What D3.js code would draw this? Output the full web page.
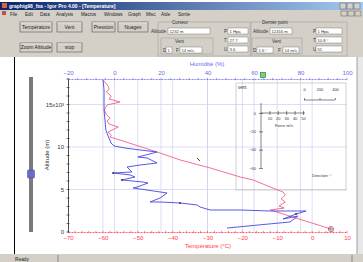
<!DOCTYPE html>
<html><head><meta charset="utf-8">
<script src="https://cdn.jsdelivr.net/npm/d3@7"></script>
<style>body{margin:0;background:#fff}svg{display:block;font-family:"Liberation Sans",Arial,sans-serif}</style>
</head><body>
<script>
// ---- data ----
const tempTicks = [-70,-60,-50,-40,-30,-20,-10,0,10];
const humTicks = [-20,0,20,40,60,80,100];
const altTicks = [0,5000,10000,15000];
// temperature profile: altitude (m), temperature (°C)
const tempAlt = [350,2590,2820,3060,3530,3880,4350,4700,5290,6120,6470,7530,8470,9290,10820,11170,11400,11760,12350,12700,13060,13410,13760,14350,14940,15290,15650,16000,16470,16820,17170,17880];
const tempVal = [5.4,-12.0,-8.0,-9.5,-7.7,-8.9,-7.7,-8.3,-12.0,-16.9,-20.6,-29.2,-37.8,-43.6,-55.1,-57.9,-57.6,-58.5,-55.6,-58.2,-58.8,-57.9,-58.9,-59.6,-58.8,-55.1,-58.2,-57.6,-59.0,-58.2,-58.5,-59.9];
// humidity profile: altitude (m), humidity (%)
const humAlt = [470,1180,1880,1530,2120,2470,2470,2590,2590,2940,3180,3410,3530,3530,4000,4590,4710,5180,5290,5760,5880,6120,6470,6710,6940,7060,7650,7880,8120,8710,8820,9410,9650,9880,10120,10470,11060,12000,13180,14350,15530,16710,17880];
const humVal = [48.4,75.5,78.9,72.5,78.1,82.4,66.9,54.0,41.1,36.8,35.5,28.2,19.6,15.3,19.6,22.6,19.6,8.0,9.7,14.4,12.3,3.2,8.8,6.7,-0.6,7.5,5.4,11.0,18.3,14.0,10.1,18.3,11.0,4.5,-0.2,-1.5,-2.4,-3.7,-4.1,-4.5,-4.5,-4.5,-4.9];
// wind inset axes
const forceTicks = [10,20,30,40,50];
const insetYTicks = [0,-20,-40,-60];
const scaleTicks = [0,200,400];
const menuItems = ["File","Edit","Data","Analysis","Macros","Windows","Graph","Misc","Aide","Sortie"];
const buttons1 = ["Température","Vent","Pression","Nuages"];
const buttons2 = ["Zoom Altitude","stop"];

const W=363,H=262;
const svg=d3.select("body").append("svg").attr("width",W).attr("height",H);

// ---- window chrome ----
svg.append("rect").attr("x",0).attr("y",0).attr("width",W).attr("height",H).attr("fill","#fff");
const grad=svg.append("defs").append("linearGradient").attr("id","tb");
grad.append("stop").attr("offset","0").attr("stop-color","#0a246a");
grad.append("stop").attr("offset","1").attr("stop-color","#a6caf0");
svg.append("rect").attr("x",0).attr("y",2).attr("width",W).attr("height",8).attr("fill","url(#tb)");
svg.append("rect").attr("x",2).attr("y",3).attr("width",5).attr("height",5).attr("fill","#e06040");
svg.append("text").attr("x",9).attr("y",8).attr("font-size",5).attr("font-weight","bold").attr("fill","#fff").text("graphig98_fxa - Igor Pro 4.00 - [Temperature]");
[340,347,354].forEach(x=>{svg.append("rect").attr("x",x).attr("y",3).attr("width",6).attr("height",6).attr("fill","#d4d0c8").attr("stroke","#404040").attr("stroke-width",0.4);});
// menu bar
svg.append("rect").attr("x",0).attr("y",10).attr("width",W).attr("height",7).attr("fill","#d4d0c8");
svg.append("rect").attr("x",2).attr("y",11).attr("width",4).attr("height",4).attr("fill","#c05050");
const menuX=[10,25,40,56,81,104,128,146,161,178];
menuItems.forEach((m,i)=>svg.append("text").attr("x",menuX[i]).attr("y",15.5).attr("font-size",4.6).attr("fill","#222").text(m));
[341,348,355].forEach(x=>{svg.append("rect").attr("x",x).attr("y",11).attr("width",6).attr("height",5).attr("fill","#d4d0c8").attr("stroke","#404040").attr("stroke-width",0.4);});
// control panel
svg.append("rect").attr("x",0).attr("y",17).attr("width",W).attr("height",40).attr("fill","#d4d0c8");
function button(x,y,w,h,label){
  svg.append("rect").attr("x",x).attr("y",y).attr("width",w).attr("height",h).attr("fill","#d4d0c8").attr("stroke","#555").attr("stroke-width",0.6);
  svg.append("line").attr("x1",x+0.5).attr("x2",x+w-0.5).attr("y1",y+0.8).attr("y2",y+0.8).attr("stroke","#fff").attr("stroke-width",0.6);
  svg.append("text").attr("x",x+w/2).attr("y",y+h/2+1.8).attr("text-anchor","middle").attr("font-size",5).attr("fill","#222").text(label);
}
const b1x=[20,57,92,118],b1w=[32,25,23,30];
buttons1.forEach((b,i)=>button(b1x[i],22,b1w[i],10,b));
button(20,43,32,9,buttons2[0]);button(57,43,25,9,buttons2[1]);
function field(x,y,w,t){
  svg.append("rect").attr("x",x).attr("y",y).attr("width",w).attr("height",6).attr("fill","#fff").attr("stroke","#666").attr("stroke-width",0.4);
  svg.append("text").attr("x",x+1.5).attr("y",y+4.7).attr("font-size",4.2).attr("fill","#333").text(t);
}
function lab(x,y,t,a){svg.append("text").attr("x",x).attr("y",y).attr("font-size",4.5).attr("fill","#333").attr("text-anchor",a||"start").text(t);}
function gbox(x,y,w,h){svg.append("rect").attr("x",x).attr("y",y).attr("width",w).attr("height",h).attr("fill","none").attr("stroke","#999").attr("stroke-width",0.5);}
gbox(158,22,92,34);lab(172,23.5,"Curseur");
lab(166,33,"Altitude","end");field(168,28,42,"1232 m");
gbox(161,38,52,16);lab(175,43,"Vent");
lab(163,52,"D");field(166,47,6,"1");lab(176,52,"F");field(180,47,22,"14 m/s");
lab(224,33,"P");field(228,28,20,"1 Hpa");
lab(224,42,"T");field(228,37,20,"27.7");
lab(224,51,"U");field(228,46,20,"3.6");
gbox(251,22,96,34);lab(262,23.5,"Dernier point");
lab(268,33,"Altitude","end");field(270,28,22,"12416 m");
gbox(252,38,50,16);lab(272,43,"Vent");
lab(253,52,"D");field(257,47,16,"1.6 °");lab(278,52,"F");field(283,47,16,"14 m/s");
lab(313,33,"P");field(316,28,26,"1 Hpa");
lab(313,42,"T");field(316,37,26,"10.8 °");
lab(313,51,"U");field(316,46,26,"51");
// graph window frame
svg.append("line").attr("x1",14.5).attr("x2",14.5).attr("y1",57).attr("y2",254).attr("stroke","#000").attr("stroke-width",1);
svg.append("rect").attr("x",357).attr("y",57).attr("width",6).attr("height",197).attr("fill","#e8e8e8");
svg.append("line").attr("x1",357).attr("x2",357).attr("y1",57).attr("y2",254).attr("stroke","#a0a0a0");
// status bar
svg.append("rect").attr("x",0).attr("y",254).attr("width",W).attr("height",8).attr("fill","#d4d0c8");
svg.append("line").attr("x1",58).attr("x2",58).attr("y1",255).attr("y2",262).attr("stroke","#888");
svg.append("line").attr("x1",352).attr("x2",352).attr("y1",255).attr("y2",262).attr("stroke","#888");
svg.append("text").attr("x",15).attr("y",260.5).attr("font-size",4.8).attr("fill","#222").text("Ready");
// slider
svg.append("rect").attr("x",29).attr("y",77).attr("width",4).attr("height",155).attr("fill","#7a7a7a");
svg.append("rect").attr("x",27.5).attr("y",170).attr("width",7).attr("height",8).attr("rx",1).attr("fill","#6a6ac8").attr("stroke","#404090").attr("stroke-width",0.5);

// ---- scales ----
const xT=d3.scaleLinear().domain([-70,10]).range([68,347]);
const xH=d3.scaleLinear().domain([-20,100]).range([68,347]);
const yA=d3.scaleLinear().domain([0,18000]).range([232,79]);
const gridC="#cfcff2";
const g=svg.append("g");
// grids
g.selectAll(".gt").data(tempTicks.slice(1,-1)).enter().append("line").attr("x1",d=>xT(d)).attr("x2",d=>xT(d)).attr("y1",79).attr("y2",232).attr("stroke",gridC).attr("stroke-width",0.7);
g.selectAll(".gh").data(humTicks.slice(1,-1)).enter().append("line").attr("x1",d=>xH(d)).attr("x2",d=>xH(d)).attr("y1",79).attr("y2",232).attr("stroke",gridC).attr("stroke-width",0.7);
g.selectAll(".ga").data(altTicks.slice(1)).enter().append("line").attr("x1",68).attr("x2",347).attr("y1",d=>yA(d)).attr("y2",d=>yA(d)).attr("stroke",gridC).attr("stroke-width",0.7);

// inset wind panel
const ins=svg.append("g");
ins.append("rect").attr("x",236).attr("y",83).attr("width",110).attr("height",107).attr("fill","none").attr("stroke","#c4c4c4").attr("stroke-width",0.8);
ins.append("text").attr("x",238).attr("y",89).attr("font-size",4.5).attr("fill","#333").text("vent");
const xI=d3.scaleLinear().domain([0,50]).range([261,303]);
const yI=d3.scaleLinear().domain([-60,0]).range([168,113]);
const ax1=ins.append("g").attr("transform","translate(0,113)").call(d3.axisBottom(xI).tickValues(forceTicks).tickSize(2).tickSizeOuter(0));
ax1.select(".domain").attr("d","M261,0H305");
const ax2=ins.append("g").attr("transform","translate(261,0)").call(d3.axisLeft(yI).tickValues(insetYTicks).tickSize(2).tickSizeOuter(0));
ax2.select(".domain").attr("d","M0,103V168");
[ax1,ax2].forEach(a=>{a.selectAll("path,line").attr("stroke","#333").attr("stroke-width",0.6);a.selectAll("text").attr("font-size",4).attr("fill","#333").attr("font-family","Liberation Sans, Arial");});
ax1.selectAll(".tick line").attr("y1",-2);
ax2.selectAll(".tick line").attr("x2",2).attr("x1",-2);
ax1.selectAll("text").attr("dy","0.5em");
ins.append("text").attr("x",284).attr("y",127).attr("text-anchor","middle").attr("font-size",4).attr("fill","#333").text("Force m/s");
const xS=d3.scaleLinear().domain([0,400]).range([304,335]);
const sb=ins.append("g").attr("transform","translate(0,100)").call(d3.axisTop(xS).tickValues(scaleTicks).tickSize(2).tickSizeOuter(0));
sb.select(".domain").attr("d","M304,0H335");
sb.selectAll("path,line").attr("stroke","#333").attr("stroke-width",0.6);
sb.selectAll("text").attr("font-size",4).attr("fill","#333").attr("dy","-0.9em");
ins.append("text").attr("x",312).attr("y",177).attr("font-size",4).attr("fill","#333").text("Direction: °");

// ---- profiles ----
const tData=tempAlt.map((a,i)=>[tempVal[i],a]);
const hData=humAlt.map((a,i)=>[humVal[i],a]);
svg.append("path").attr("d",d3.line().x(d=>xT(d[0])).y(d=>yA(d[1]))(tData)).attr("fill","none").attr("stroke","#f0608a").attr("stroke-width",0.9);
svg.append("path").attr("d",d3.line().x(d=>xH(d[0])).y(d=>yA(d[1]))(hData)).attr("fill","none").attr("stroke","#4646dc").attr("stroke-width",0.9);
// small point marks on humidity trace
const markIdx=[4,11,21,24];
svg.selectAll(".mk").data(markIdx).enter().append("rect").attr("x",i=>xH(humVal[i])-1).attr("y",i=>yA(humAlt[i])-0.6).attr("width",2).attr("height",1.2).attr("fill","#101040");

// ---- axes ----
function minor(gsel,vals,fn,orient,len,col){
  gsel.selectAll(null).data(vals).enter().append("line").each(function(v){
    const s=d3.select(this).attr("stroke",col).attr("stroke-width",0.6);
    if(orient==="h") s.attr("x1",fn(v)).attr("x2",fn(v)).attr("y1",-len).attr("y2",len);
    else s.attr("y1",fn(v)).attr("y2",fn(v)).attr("x1",-len).attr("x2",len);
  });
}
// bottom temperature axis (red)
const red="#ff3a4a";
const bAx=svg.append("g").attr("transform","translate(0,232)").call(d3.axisBottom(xT).tickValues(tempTicks).tickSize(0).tickPadding(4));
bAx.select(".domain").attr("stroke",red).attr("stroke-dasharray","2,1").attr("stroke-width",0.8);
bAx.selectAll("text").attr("fill",red).attr("font-size",6).attr("font-family","Liberation Sans, Arial");
minor(bAx,d3.range(-70,10.1,2),xT,"h",1.2,red);
svg.append("text").attr("x",208).attr("y",248).attr("text-anchor","middle").attr("font-size",6).attr("fill",red).text("Température (°C)");
// top humidity axis (blue)
const blue="#6a6af0";
const tAx=svg.append("g").attr("transform","translate(0,79)").call(d3.axisTop(xH).tickValues(humTicks).tickSize(0).tickPadding(4));
tAx.select(".domain").attr("stroke",blue).attr("stroke-dasharray","2,1").attr("stroke-width",0.8);
tAx.selectAll("text").attr("fill",blue).attr("font-size",6).attr("font-family","Liberation Sans, Arial");
minor(tAx,d3.range(-20,100.1,4),xH,"h",1.2,blue);
svg.append("text").attr("x",207).attr("y",66).attr("text-anchor","middle").attr("font-size",6).attr("fill",blue).text("Humidité (%)");
// left altitude axis
const lAx=svg.append("g").attr("transform","translate(68,0)").call(d3.axisLeft(yA).tickValues(altTicks).tickSize(0).tickPadding(4).tickFormat(d=>d===15000?"15x10³":String(d/1000)));
lAx.select(".domain").attr("stroke","#222").attr("stroke-width",0.8);
lAx.selectAll("text").attr("fill","#333").attr("font-size",6).attr("font-family","Liberation Sans, Arial");
minor(lAx,d3.range(0,18001,1000),yA,"v",1.5,"#222");
svg.append("text").attr("transform","translate(49,155) rotate(-90)").attr("text-anchor","middle").attr("font-size",6).attr("fill","#333").text("Altitude (m)");

// cursors
svg.append("rect").attr("x",260.5).attr("y",72.5).attr("width",5).attr("height",5).attr("fill","#7ad07a").attr("stroke","#207020").attr("stroke-width",0.6);
const cx=xT(tempVal[0]),cy=yA(tempAlt[0]);
svg.append("circle").attr("cx",cx).attr("cy",cy).attr("r",2.5).attr("fill","none").attr("stroke","#903040").attr("stroke-width",0.6);
svg.append("path").attr("d",`M${cx-3},${cy}H${cx+3}M${cx},${cy-3}V${cy+3}`).attr("stroke","#903040").attr("stroke-width",0.5);
svg.append("path").attr("d","M197,158l3,3").attr("stroke","#222").attr("stroke-width",0.8);
</script>
</body></html>
